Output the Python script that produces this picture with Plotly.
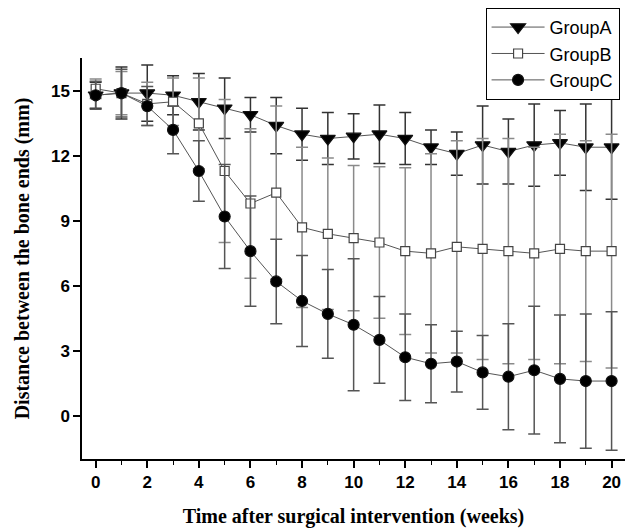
import plotly.graph_objects as go

weeks = list(range(21))
group_a = [14.8, 14.9, 14.9, 14.8, 14.5, 14.2, 13.9, 13.4, 13.0, 12.8, 12.9, 13.0, 12.8, 12.4, 12.1, 12.5, 12.2, 12.5, 12.6, 12.4, 12.4]
group_a_err = [0.6, 1.2, 1.3, 0.9, 1.3, 1.4, 0.8, 1.3, 1.2, 1.2, 1.05, 1.35, 1.2, 0.8, 1.0, 1.8, 1.5, 1.9, 1.5, 2.0, 2.4]
group_b = [15.1, 14.9, 14.4, 14.5, 13.5, 11.3, 9.8, 10.3, 8.7, 8.4, 8.2, 8.0, 7.6, 7.5, 7.8, 7.7, 7.6, 7.5, 7.7, 7.6, 7.6]
group_b_err = [0.45, 1.0, 1.0, 1.1, 2.1, 3.3, 3.45, 4.0, 3.7, 3.5, 3.35, 3.5, 3.85, 4.6, 4.9, 5.1, 5.2, 4.9, 5.3, 5.1, 5.4]
group_c = [14.8, 14.9, 14.3, 13.2, 11.3, 9.2, 7.6, 6.2, 5.3, 4.7, 4.2, 3.5, 2.7, 2.4, 2.5, 2.0, 1.8, 2.1, 1.7, 1.6, 1.6]
group_c_err = [0.65, 1.1, 0.9, 1.1, 1.4, 2.4, 2.55, 1.95, 2.1, 2.05, 3.05, 2.0, 2.0, 1.8, 1.4, 1.7, 2.45, 2.95, 2.95, 3.1, 3.2]

x_ticks = list(range(0, 21, 2))
y_ticks = [0, 3, 6, 9, 12, 15]

fig = go.Figure()

def add(name, y, err, symbol, size, fill, mline, errcolor):
    fig.add_trace(go.Scatter(
        x=weeks, y=y, name=name, mode="lines+markers", legendgroup=name,
        line=dict(color="#555555", width=1),
        marker=dict(symbol=symbol, size=size, color=fill,
                    line=dict(color=mline, width=1.2)),
        error_y=dict(type="data", array=err, visible=True,
                     color=errcolor, thickness=1.5, width=6),
    ))

add("GroupA", group_a, group_a_err, "triangle-down", 13, "black", "#111111", "#333333")
add("GroupB", group_b, group_b_err, "square", 9, "white", "#444444", "#8a8a8a")
add("GroupC", group_c, group_c_err, "circle", 11, "black", "#111111", "#555555")

fig.update_layout(
    width=627, height=528,
    margin=dict(l=82, r=2, t=58, b=69),
    paper_bgcolor="white", plot_bgcolor="white",
    showlegend=True,
    legend=dict(x=0.99, y=1.125, xanchor="right", yanchor="top",
                bordercolor="black", borderwidth=1, bgcolor="white",
                font=dict(family="Liberation Sans, Arial", size=18, color="black"),
                tracegroupgap=0, itemwidth=53),
    font=dict(family="Liberation Sans, Arial", color="black"),
)

fig.update_xaxes(
    range=[-0.53, 20.52], tickvals=x_ticks, ticks="outside", ticklen=7, tickwidth=1.5,
    tickcolor="black", showline=True, linecolor="black", linewidth=1.5,
    showgrid=False, zeroline=False, automargin=False,
    minor=dict(dtick=1, tick0=0, ticks="outside", ticklen=4, tickwidth=1.2, tickcolor="black"),
    tickfont=dict(family="Liberation Sans, Arial", size=17, color="black", weight="bold"),
    title=dict(text="<b>Time after surgical intervention (weeks)</b>",
               font=dict(family="Liberation Serif, Times New Roman", size=20, color="black"),
               standoff=18),
)
fig.update_yaxes(
    range=[-2.0, 16.52], tickvals=y_ticks, ticks="outside", ticklen=7, tickwidth=1.5,
    tickcolor="black", showline=True, linecolor="black", linewidth=1.5,
    showgrid=False, zeroline=False, automargin=False,
    tickfont=dict(family="Liberation Sans, Arial", size=17, color="black", weight="bold"),
    title=dict(text="<b>Distance between the bone ends (mm)</b>",
               font=dict(family="Liberation Serif, Times New Roman", size=20, color="black"),
               standoff=16),
)

fig.write_html("out.html", config={"displayModeBar": False},
               post_script="document.body.style.margin='0';document.body.style.overflow='hidden';")
